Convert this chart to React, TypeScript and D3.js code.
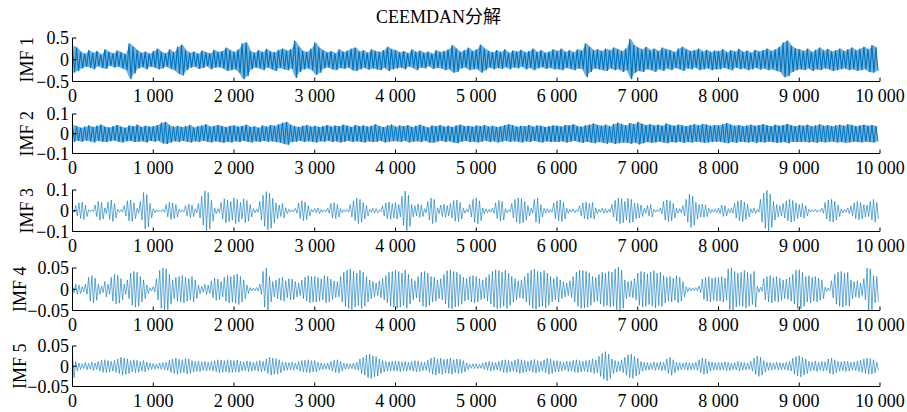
import * as d3 from "d3";

// ---- data -------------------------------------------------------------
const title = "CEEMDAN分解";
const imfNames = ["IMF 1", "IMF 2", "IMF 3", "IMF 4", "IMF 5"];
const imfLimits = [0.5, 0.1, 0.1, 0.05, 0.05];
const yTickLabels = [
  ["−0.5", "0", "0.5"],
  ["−0.1", "0", "0.1"],
  ["−0.1", "0", "0.1"],
  ["−0.05", "0", "0.05"],
  ["−0.05", "0", "0.05"],
];
const xTicks = [0, 1000, 2000, 3000, 4000, 5000, 6000, 7000, 8000, 9000, 10000];
const xTickLabels = ["0", "1 000", "2 000", "3 000", "4 000", "5 000", "6 000", "7 000", "8 000", "9 000", "10 000"];
const sampleCount = 10000;

// IMF 1: max / |min| per 50-sample block, in 0.01
const imf1Upper = [
  33, 28, 18, 14, 22, 16, 20, 12, 24, 18, 15, 21, 17, 13, 38, 30, 22, 16, 19, 14,
  20, 26, 18, 15, 24, 17, 30, 35, 22, 16, 19, 14, 21, 17, 15, 23, 18, 20, 28, 22,
  18, 24, 38, 40, 20, 16, 22, 18, 25, 19, 17, 23, 26, 21, 24, 44, 30, 20, 18, 26,
  40, 28, 22, 17, 20, 15, 24, 18, 21, 26, 28, 19, 22, 16, 24, 20, 18, 22, 30, 24,
  22, 17, 20, 15, 24, 18, 21, 16, 19, 14, 22, 18, 20, 24, 34, 26, 18, 22, 28, 20,
  24, 35, 26, 20, 17, 22, 18, 24, 16, 21, 19, 23, 17, 20, 26, 18, 22, 16, 19, 24,
  20, 26, 18, 22, 17, 24, 21, 38, 30, 22, 24, 20, 26, 22, 28, 24, 20, 26, 48, 34,
  28, 24, 30, 22, 26, 20, 28, 24, 22, 18, 26, 30, 24, 20, 22, 26, 19, 23, 18, 21,
  20, 24, 17, 22, 19, 25, 18, 21, 16, 23, 19, 22, 26, 20, 24, 30, 40, 44, 32, 26,
  24, 20, 26, 18, 23, 28, 21, 25, 19, 22, 26, 20, 24, 28, 22, 26, 30, 24, 34, 28,
];
const imf1Lower = [
  30, 26, 20, 16, 18, 22, 15, 19, 21, 14, 18, 16, 20, 24, 45, 32, 20, 17, 22, 16,
  18, 22, 20, 16, 21, 24, 32, 36, 24, 18, 16, 21, 19, 15, 22, 18, 17, 20, 26, 24,
  22, 30, 45, 38, 22, 18, 20, 24, 18, 22, 26, 19, 22, 24, 20, 42, 28, 22, 20, 24,
  35, 30, 20, 18, 22, 24, 19, 21, 18, 24, 26, 22, 19, 23, 20, 22, 24, 19, 26, 22,
  20, 18, 22, 16, 19, 24, 18, 20, 15, 21, 19, 20, 24, 22, 30, 28, 20, 18, 24, 22,
  22, 30, 24, 18, 22, 19, 21, 17, 22, 18, 20, 16, 22, 19, 24, 20, 17, 21, 19, 22,
  22, 24, 19, 21, 24, 20, 22, 40, 28, 20, 22, 24, 26, 20, 24, 22, 28, 24, 45, 30,
  26, 28, 22, 24, 28, 22, 26, 20, 24, 19, 22, 26, 20, 22, 18, 24, 22, 20, 24, 22,
  22, 19, 21, 24, 18, 22, 20, 24, 22, 19, 23, 20, 24, 22, 26, 28, 40, 38, 28, 24,
  22, 24, 20, 26, 22, 24, 20, 22, 26, 24, 22, 20, 24, 22, 26, 24, 22, 28, 30, 26,
];

// IMF 2: max / |min| per 50-sample block, in 0.001
const imf2Upper = [
  45, 38, 30, 36, 42, 34, 40, 46, 35, 32, 38, 44, 36, 30, 42, 38, 46, 34, 40, 36,
  38, 44, 56, 60, 42, 36, 40, 34, 38, 45, 32, 38, 42, 48, 36, 40, 44, 38, 34, 40,
  42, 36, 40, 46, 34, 38, 30, 42, 36, 44, 40, 48, 56, 60, 44, 38, 34, 40, 44, 36,
  40, 34, 38, 44, 36, 42, 38, 46, 40, 34, 44, 38, 42, 36, 40, 48, 38, 34, 42, 46,
  36, 42, 38, 44, 34, 40, 46, 38, 32, 42, 38, 44, 36, 40, 34, 42, 46, 38, 40, 36,
  42, 38, 44, 36, 40, 34, 38, 44, 48, 42, 36, 40, 38, 44, 36, 42, 40, 34, 38, 42,
  40, 36, 44, 42, 48, 38, 36, 42, 46, 52, 44, 40, 46, 38, 50, 56, 48, 42, 54, 48,
  60, 50, 44, 48, 42, 46, 40, 52, 44, 40, 46, 42, 38, 44, 48, 42, 50, 46, 40, 44,
  42, 48, 54, 46, 40, 44, 38, 42, 46, 40, 44, 48, 42, 38, 46, 40, 44, 50, 42, 38,
  44, 40, 46, 38, 42, 48, 40, 44, 38, 42, 46, 40, 48, 44, 38, 42, 46, 40, 44, 38,
];
const imf2Lower = [
  42, 36, 40, 34, 38, 44, 36, 40, 42, 38, 34, 40, 44, 38, 36, 42, 40, 38, 44, 36,
  40, 36, 48, 52, 44, 38, 42, 36, 40, 44, 38, 42, 36, 40, 44, 38, 42, 46, 40, 44,
  38, 42, 36, 40, 44, 38, 42, 36, 40, 38, 42, 44, 52, 56, 42, 40, 36, 42, 38, 40,
  44, 38, 40, 36, 42, 38, 44, 40, 36, 42, 38, 40, 44, 38, 42, 40, 36, 44, 40, 38,
  38, 42, 36, 44, 40, 38, 42, 36, 44, 46, 40, 36, 42, 38, 44, 48, 40, 36, 42, 40,
  44, 40, 36, 42, 38, 44, 40, 36, 42, 38, 40, 44, 38, 42, 36, 40, 44, 38, 42, 40,
  42, 38, 44, 40, 36, 42, 46, 40, 44, 48, 42, 46, 50, 44, 52, 48, 44, 46, 50, 44,
  54, 48, 42, 46, 44, 40, 44, 48, 42, 44, 40, 46, 42, 44, 40, 42, 46, 44, 42, 40,
  40, 44, 48, 42, 46, 40, 42, 44, 40, 46, 42, 44, 40, 42, 46, 44, 42, 48, 40, 42,
  42, 40, 44, 42, 46, 40, 44, 42, 40, 44, 42, 46, 44, 40, 42, 44, 40, 42, 44, 40,
];

// IMF 3-5: peak size per 40-sample block (max then min), in 0.001
const imf3Peaks = [
  7, 25, 38, 42, 28, 5, 4, 28, 45, 40, 14, 42, 52, 35, 7, 5, 25, 48, 52, 38, 12, 45, 88, 78, 35,
  10, 5, 4, 7, 30, 42, 38, 30, 7, 5, 25, 32, 28, 10, 35, 70, 96, 88, 50, 14, 10, 40, 58, 52, 45,
  62, 55, 40, 58, 50, 30, 10, 7, 45, 75, 92, 85, 60, 38, 28, 35, 14, 7, 5, 12, 38, 48, 42, 25, 7,
  10, 14, 7, 5, 12, 35, 38, 30, 10, 5, 7, 30, 48, 62, 55, 40, 25, 7, 12, 10, 5, 25, 38, 42, 35,
  40, 30, 70, 95, 75, 30, 25, 32, 28, 10, 45, 62, 55, 14, 28, 32, 25, 35, 50, 52, 40, 12, 7, 30, 55,
  62, 48, 14, 10, 7, 12, 38, 50, 45, 10, 5, 35, 55, 62, 58, 45, 25, 12, 55, 62, 30, 12, 10, 7, 38,
  48, 52, 40, 12, 7, 10, 5, 25, 38, 42, 35, 40, 14, 7, 12, 10, 7, 30, 50, 62, 58, 45, 60, 55, 38,
  35, 28, 12, 25, 30, 7, 5, 14, 45, 52, 48, 35, 12, 10, 25, 55, 80, 70, 40, 30, 32, 28, 12, 7, 10,
  14, 28, 25, 10, 12, 35, 48, 52, 42, 30, 10, 14, 7, 55, 85, 98, 80, 45, 30, 25, 35, 48, 55, 50, 38,
  30, 35, 25, 7, 5, 7, 4, 12, 40, 52, 55, 45, 28, 10, 7, 14, 25, 38, 45, 40, 30, 28, 45, 55, 40,
];
const imf4Peaks = [
  8, 12, 10, 6, 12, 28, 32, 26, 12, 8, 18, 12, 28, 35, 33, 25, 12, 22, 38, 42, 40, 30, 22, 10, 4,
  6, 25, 45, 50, 48, 35, 22, 28, 30, 32, 28, 25, 30, 22, 10, 7, 12, 10, 20, 26, 24, 18, 28, 32, 30,
  33, 36, 30, 22, 10, 4, 3, 4, 12, 42, 50, 30, 18, 22, 26, 28, 20, 25, 24, 18, 15, 22, 28, 32, 30,
  30, 28, 25, 32, 30, 24, 20, 18, 30, 40, 45, 48, 42, 38, 45, 40, 30, 22, 18, 15, 20, 25, 32, 40, 42,
  45, 42, 38, 45, 35, 25, 20, 30, 40, 42, 38, 30, 28, 22, 25, 35, 44, 46, 42, 40, 35, 28, 25, 30, 32,
  30, 25, 22, 28, 35, 42, 46, 44, 40, 45, 38, 30, 25, 20, 22, 30, 38, 45, 47, 42, 40, 44, 38, 30, 25,
  30, 22, 18, 15, 20, 30, 40, 45, 44, 42, 38, 30, 28, 35, 40, 38, 42, 40, 48, 52, 45, 22, 18, 20, 25,
  38, 42, 40, 36, 40, 44, 38, 40, 32, 28, 30, 26, 32, 28, 18, 6, 4, 3, 4, 8, 24, 28, 30, 26, 28,
  28, 30, 26, 48, 50, 42, 38, 40, 44, 40, 36, 42, 7, 5, 25, 30, 32, 28, 30, 26, 22, 24, 28, 35, 45,
  46, 40, 30, 32, 28, 30, 26, 22, 5, 3, 20, 35, 40, 42, 38, 40, 22, 18, 20, 15, 25, 50, 48, 32, 30,
];
const imf5Peaks = [
  28, 12, 8, 6, 9, 7, 10, 8, 12, 15, 16, 14, 12, 15, 18, 22, 20, 18, 14, 16, 15, 12, 14, 10, 8,
  7, 6, 8, 9, 10, 15, 18, 20, 17, 16, 19, 18, 14, 12, 13, 11, 12, 10, 12, 14, 16, 15, 14, 16, 15,
  14, 15, 12, 11, 13, 12, 10, 12, 14, 12, 18, 22, 20, 19, 16, 11, 10, 9, 10, 8, 12, 14, 15, 16, 14,
  14, 10, 8, 7, 8, 12, 15, 16, 12, 8, 7, 6, 8, 10, 18, 22, 28, 30, 26, 24, 18, 14, 12, 11, 12,
  12, 13, 11, 12, 10, 12, 14, 13, 11, 10, 15, 20, 22, 18, 20, 17, 18, 20, 16, 18, 17, 14, 8, 5, 6,
  6, 5, 8, 10, 12, 10, 9, 12, 15, 16, 14, 12, 15, 18, 16, 14, 12, 15, 17, 14, 12, 16, 20, 18, 14,
  14, 12, 10, 13, 12, 15, 16, 14, 12, 14, 15, 18, 16, 25, 32, 36, 30, 18, 14, 12, 16, 22, 28, 30, 24,
  20, 12, 10, 9, 8, 10, 9, 11, 10, 18, 22, 16, 10, 9, 8, 10, 9, 8, 10, 16, 20, 18, 12, 10, 9,
  10, 9, 11, 10, 8, 9, 12, 10, 9, 8, 12, 20, 25, 22, 14, 10, 9, 8, 10, 9, 8, 10, 12, 20, 24,
  26, 22, 18, 12, 11, 13, 10, 12, 11, 18, 20, 16, 12, 11, 13, 12, 10, 11, 13, 15, 18, 20, 19, 16, 10,
];

const imfSeries = [
  { upper: imf1Upper, lower: imf1Lower, unit: 0.01, dense: true },
  { upper: imf2Upper, lower: imf2Lower, unit: 0.001, dense: true },
  { upper: imf3Peaks, lower: imf3Peaks, unit: 0.001, dense: false },
  { upper: imf4Peaks, lower: imf4Peaks, unit: 0.001, dense: false },
  { upper: imf5Peaks, lower: imf5Peaks, unit: 0.001, dense: false },
];

// ---- layout -------------------------------------------------------------
const width = 907;
const height = 412;
const plotLeft = 72.5;
const plotRight = 880;
const panelTops = [38, 114, 190, 268, 346];
const panelBottoms = [81.5, 153.5, 231.5, 310.5, 386.5];
const yLabelX = [27, 27, 27, 19.5, 19.5];
const strokeWidths = [1.1, 1.0, 0.6, 0.6, 0.6];
const tickLen = 4;
const lineColor = "#0072BD";
const font = "'Liberation Serif', 'Times New Roman', serif";
const cjkFont = "'Liberation Serif', 'Noto Sans CJK SC', serif";

const xScale = d3.scaleLinear().domain([0, sampleCount]).range([plotLeft, plotRight]);

function Panel({ index }: { index: number }) {
  const lim = imfLimits[index];
  const top = panelTops[index];
  const bottom = panelBottoms[index];
  const yScale = d3.scaleLinear().domain([-lim, lim]).range([bottom, top]);
  const yTicks = [-lim, 0, lim];

  // each block: its max, then its min half a block later
  const s = imfSeries[index];
  const step = sampleCount / s.upper.length;
  const pts: [number, number][] = [];
  s.upper.forEach((u, i) => {
    pts.push([i * step, u * s.unit]);
    pts.push([i * step + step / 2, -s.lower[i] * s.unit]);
  });
  const line = d3
    .line<[number, number]>()
    .x((d) => xScale(d[0]))
    .y((d) => yScale(d[1]));

  // dense panels: the band between block max and block min is filled
  const band = d3
    .area<number>()
    .x((_, i) => xScale(i * step + step / 4))
    .y0((_, i) => yScale(-s.lower[i] * s.unit))
    .y1((d) => yScale(d * s.unit));

  const midY = (top + bottom) / 2;
  return (
    <g>
      {s.dense && <path d={band(s.upper) || ""} fill={lineColor} fillOpacity={0.55} />}
      <path d={line(pts) || ""} fill="none" stroke={lineColor} strokeWidth={strokeWidths[index]} />
      <line x1={plotLeft} x2={plotLeft} y1={top} y2={bottom} stroke="#000" strokeWidth={1} />
      <line x1={plotLeft} x2={plotRight} y1={bottom} y2={bottom} stroke="#000" strokeWidth={1} />
      {yTicks.map((t, i) => (
        <g key={"y" + i}>
          <line x1={plotLeft} x2={plotLeft + tickLen} y1={yScale(t)} y2={yScale(t)} stroke="#000" />
          <text x={69} y={yScale(t)} dy="0.35em" textAnchor="end" fontFamily={font} fontSize={18}>
            {yTickLabels[index][i]}
          </text>
        </g>
      ))}
      {xTicks.map((t, i) => (
        <g key={"x" + i}>
          <line x1={xScale(t)} x2={xScale(t)} y1={bottom} y2={bottom - tickLen} stroke="#000" />
          <text x={xScale(t)} y={bottom + 20} textAnchor="middle" fontFamily={font} fontSize={18}>
            {xTickLabels[i]}
          </text>
        </g>
      ))}
      <text
        transform={`translate(${yLabelX[index]}, ${midY}) rotate(-90)`}
        dy="0.35em"
        textAnchor="middle"
        fontFamily={font}
        fontSize={18}
      >
        {imfNames[index]}
      </text>
    </g>
  );
}

export default function App() {
  return (
    <svg width={width} height={height} style={{ position: "absolute", left: 0, top: 0 }}>
      <rect width={width} height={height} fill="#fff" />
      <text x={438.5} y={23} textAnchor="middle" fontFamily={cjkFont} fontSize={18}>
        {title}
      </text>
      {imfNames.map((_, i) => (
        <Panel key={i} index={i} />
      ))}
    </svg>
  );
}
